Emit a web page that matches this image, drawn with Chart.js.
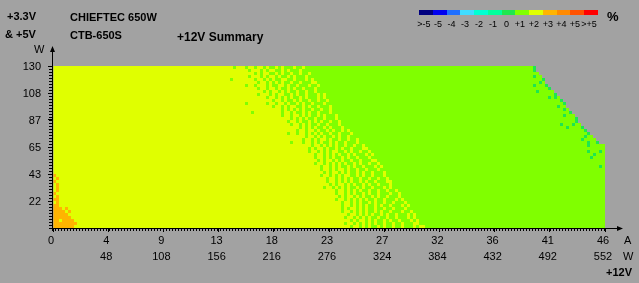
<!DOCTYPE html>
<html>
<head>
<meta charset="utf-8">
<script src="https://cdn.jsdelivr.net/npm/chart.js@4/dist/chart.umd.min.js"></script>
<style>
  body { margin: 0; background: #a2a2a2; }
  #wrap { position: relative; width: 639px; height: 283px; font-family: "Liberation Sans", Arial, sans-serif; color: #000; overflow: hidden; }
  #wrap canvas { position: absolute; left: 0; top: 0; }
  .t { position: absolute; white-space: nowrap; line-height: 1; }
  .b { font-weight: bold; }
  .sw { position: absolute; top: 10px; height: 5px; }
  .lg { position: absolute; top: 19px; font-size: 9px; width: 24px; text-align: center; }
</style>
</head>
<body>
<div id="wrap">
  <canvas id="chart" width="639" height="283"></canvas>
  <div class="t b" style="left:7px;top:11px;font-size:11px">+3.3V</div>
  <div class="t b" style="left:5px;top:29px;font-size:11px">&amp; +5V</div>
  <div class="t" style="left:34px;top:44px;font-size:11px">W</div>
  <div class="t b" style="left:70px;top:12px;font-size:11px">CHIEFTEC 650W</div>
  <div class="t b" style="left:70px;top:30px;font-size:11px">CTB-650S</div>
  <div class="t b" style="left:177px;top:31px;font-size:12px">+12V Summary</div>
  <div class="t b" style="left:607px;top:10px;font-size:13px">%</div>
  <div class="t" style="left:624px;top:235px;font-size:11px">A</div>
  <div class="t" style="left:623px;top:251px;font-size:11px">W</div>
  <div class="t b" style="left:606px;top:267px;font-size:11px">+12V</div>
  <div id="legend"></div>
</div>
<script>
// colour scale (deviation in %)
const levelLabels = [">-5", "-5", "-4", "-3", "-2", "-1", "0", "+1", "+2", "+3", "+4", "+5", ">+5"];
const levelColors = ["#00007f", "#0000f0", "#1f6fff", "#40dcff", "#00ffd2", "#00ff9c", "#1ee650",
                     "#80ff00", "#e0ff00", "#ffb400", "#ff8a00", "#ff5200", "#ff0000"];
// cell codes used in the rows below
const cellCodes = { T: "0", G: "+1", Y: "+2", O: "+3" };

// axes
const ampMax = 46;      // +12V load, A
const wattMax = 130;    // +3.3V & +5V load, W
const colCount = 184;   // cells per full row
const wTickLabels = ["22", "43", "65", "87", "108", "130"];
const aTickLabels = ["0", "4", "9", "13", "18", "23", "27", "32", "36", "41", "46"];
const wattTickLabels = ["", "48", "108", "156", "216", "276", "324", "384", "432", "492", "552"];

// one string per row, top (130 W) to bottom (0 W); letter + run length,
// whatever is left of the row up to rowEnds is +1 (G)
const rowLeft = [
  "Y60GY3GYYGYYGYGGYGYGGGYGGY",
  "Y64YGYYYGYGYYGGYGYGGGYGG",
  "Y65YYGYGYYGGYGYGGYGGYGGY",
  "Y65GYYYGYGYYGYGGYGYGGGYG",
  "Y59GY6YGYYGYGYGGYYGGYGGGYGY",
  "Y66YYGYYGYGYGYGGYGGYGGGYY",
  "Y64GY2GYYYGYGGYYGYGGYGGGYGGY",
  "Y67YGYYGYYGYGGYGYGGYGGGYG",
  "Y68YYGYGYYGYGYGGYGGYGGYGG",
  "Y68GYYYGYGYYGGYGYGGYGGGYGY",
  "Y70YGYYGYGYGYGGYGYGGGYGY",
  "Y71YYGYYGYGGYGYGGYGGYGGY",
  "Y64GY5YGYYGYYGYGGYGYGGYGGGYG",
  "Y73GYYGYGYYGGYGYGGYGGGY",
  "Y74YYGYGYGYGYGGYGGYGGYG",
  "Y66GY8YGYYGYGGYGYGGYGGGYG",
  "Y76GYYGYYGYGYGGYGYGGGY",
  "Y77YYGYGYGYGGYGGYGGGY",
  "Y77YGYYGYGGYGYGYGGYGGY",
  "Y79GYYGYGYGGYGGYGGGY",
  "Y80YYGYGYGYGGYGYGGGY",
  "Y80YGYYGYYGYGGYGYGGYGY",
  "Y78GY2GYYGYGYGYGGYGGYGGGY",
  "Y82YYGYYGYGYGGYGYGGYGG",
  "Y82YGYYGYGYYGYGGYGGYGGY",
  "Y79GY3GYYGYGYGGYGYGGYGGGYG",
  "Y84YYGYYGYGYGYGGYGGYGGY",
  "Y84YGYGYYGYGGYGYGGYGGGYY",
  "Y85GYYGYGYGYYGGYGYGGYGGY",
  "Y85YYGYYGYGYGYGGYGYGGGYGY",
  "Y86YGYYGYGYGGYGYGGYGGGYG",
  "Y86YYGYGYYGYGYGGYGGYGGGYY",
  "Y87GYYGYGYGYGYGGYGYGGYGGY",
  "Y87YYGYYGYGYGGYGYGGYGGGYGY",
  "Y88YGYYGYGYYGYGGYGGYGGGYG",
  "Y88YYGYGYYGYGYGGYGYGGYGGGY",
  "OY88GYYGYGYGYYGGYGYGGYGGGYG",
  "YOY87YYGYYGYGYGYGGYGGYGGYGGY",
  "OY89YGYYGYGYGYGGYGYGGYGGGYY",
  "YOY88YYGYGYYGYGYGGYGYGGYGGGYG",
  "YOY88GYYGYGYGYGGYGYGGYGGGYGY",
  "YOY90YYGYYGYGYGYGGYGGYGGYGGY",
  "OY92YGYYGYGYGGYGYGGYGGGYGGY",
  "YOY91YYGYGYYGYGYGGYGYGGYGGGYG",
  "O2Y92GYYGYGYGYGYGGYGGYGGGYGY",
  "YOY92YYGYYGYGYGGYGYGGYGGYGGGY",
  "O2Y93YGYYGYGYGYGGYGYGGYGGGYGY",
  "O3YOY89YYGYGYYGYGYGGYGGYGGYGGGY",
  "O4YOY90GYYGYGYGYGGYGYGGYGGGYGGY",
  "O5Y91YYGYYGYGYGYGGYGYGGYGGGYGY",
  "O6Y90YGYYGYGYGYGGYGGYGGYGGGYGY",
  "O2YO4Y90YYGYGYYGYGYGGYGYGGYGGGYGY",
  "O8Y89GYYGYGYGYGYGGYGGYGGYGGGYY",
  "O7Y90YYGYYGYGYGGYGYGGYGGYGGGYGYY"
];
// last cell (exclusive) of each row, top to bottom
const rowEnds = [
  161, 161, 162, 163, 164, 164, 165, 166, 167, 168, 169, 170, 171, 171, 172, 173, 174, 175,
  175, 176, 177, 178, 179, 180, 181, 182, 184, 184, 184, 184, 184, 184, 184, 184, 184, 184,
  184, 184, 184, 184, 184, 184, 184, 184, 184, 184, 184, 184, 184, 184, 184, 184, 184, 184
];
// single "0" cells near the cut-off edge: [row, col]
const tealCells = [
  [0, 160], [1, 160], [3, 160], [4, 163], [5, 162], [6, 160], [6, 164], [7, 165], [8, 161],
  [9, 167], [10, 165], [10, 167], [11, 169], [12, 170], [13, 168], [14, 170], [15, 172],
  [16, 170], [17, 174], [18, 174], [19, 169], [19, 173], [20, 171], [20, 176], [21, 177],
  [22, 178], [23, 177], [24, 176], [25, 178], [25, 181], [26, 178], [28, 178], [28, 182],
  [29, 180], [30, 179], [33, 182]
];

const rowStep = wattMax / rowLeft.length;
const colStep = ampMax / colCount;
const minorAmp = 0.25;

function levelColor(code) {
  return levelColors[levelLabels.indexOf(cellCodes[code])];
}

// turn the row strings into floating horizontal bars, one dataset per level
function buildRuns() {
  const runs = { T: [], G: [], Y: [], O: [] };
  rowLeft.forEach((s, r) => {
    const yMid = wattMax - (r + 0.5) * rowStep;
    const cells = [];
    for (const m of s.matchAll(/([OYGT])(\d*)/g)) {
      const n = m[2] ? +m[2] : 1;
      for (let i = 0; i < n; i++) cells.push(m[1]);
    }
    while (cells.length < rowEnds[r]) cells.push("G");
    let start = 0;
    for (let c = 1; c <= cells.length; c++) {
      if (c === cells.length || cells[c] !== cells[start]) {
        runs[cells[start]].push({ y: yMid, x: [start * colStep, c * colStep] });
        start = c;
      }
    }
  });
  tealCells.forEach(([r, c]) => {
    runs.T.push({ y: wattMax - (r + 0.5) * rowStep, x: [c * colStep, (c + 1) * colStep] });
  });
  return runs;
}

// colour legend
const legendDiv = document.getElementById("legend");
levelLabels.forEach((lab, i) => {
  const x0 = Math.round(419 + i * 179 / levelLabels.length);
  const x1 = Math.round(419 + (i + 1) * 179 / levelLabels.length);
  legendDiv.innerHTML += `<div class="sw" style="left:${x0}px;width:${x1 - x0}px;background:${levelColors[i]}"></div>` +
    `<div class="lg" style="left:${(x0 + x1) / 2 - 14}px">${lab}</div>`;
});

// minor ticks, axis lines and arrows
const axisExtras = {
  id: "axisExtras",
  afterDraw(chart) {
    const { ctx, chartArea: a, scales: { x, y } } = chart;
    ctx.save();
    ctx.strokeStyle = "#000";
    ctx.fillStyle = "#000";
    ctx.lineWidth = 1;
    ctx.beginPath();
    for (let r = 0; r <= rowLeft.length; r++) {
      const py = Math.round(y.getPixelForValue(r * rowStep)) + 0.5;
      ctx.moveTo(a.left - 4, py);
      ctx.lineTo(a.left, py);
    }
    for (let v = 0; v <= ampMax + 1e-9; v += minorAmp) {
      const px = Math.round(x.getPixelForValue(v)) - 0.5;
      ctx.moveTo(px, a.bottom);
      ctx.lineTo(px, a.bottom + 3);
    }
    ctx.moveTo(a.left - 0.5, a.bottom + 1);
    ctx.lineTo(a.left - 0.5, 49);
    ctx.moveTo(a.left - 1, a.bottom + 0.5);
    ctx.lineTo(620, a.bottom + 0.5);
    ctx.stroke();
    ctx.beginPath();
    ctx.moveTo(623, a.bottom + 0.5);
    ctx.lineTo(617, a.bottom - 2);
    ctx.lineTo(617, a.bottom + 3);
    ctx.closePath();
    ctx.moveTo(a.left - 0.5, 46);
    ctx.lineTo(a.left - 3, 52);
    ctx.lineTo(a.left + 2, 52);
    ctx.closePath();
    ctx.fill();
    ctx.restore();
  }
};

const runs = buildRuns();
const datasets = ["T", "G", "Y", "O"].map(code => ({
  label: cellCodes[code],
  data: runs[code],
  backgroundColor: levelColor(code),
  borderWidth: 0,
  inflateAmount: 0
}));

Chart.defaults.font.family = "'Liberation Sans', Arial, sans-serif";
Chart.defaults.font.size = 11;
Chart.defaults.color = "#000";

new Chart(document.getElementById("chart"), {
  type: "bar",
  data: { datasets },
  options: {
    indexAxis: "y",
    responsive: false,
    animation: false,
    events: [],
    grouped: false,
    barPercentage: 1,
    categoryPercentage: 1,
    layout: { padding: { top: 66, right: 34, left: 0, bottom: 0 } },
    plugins: { legend: { display: false }, tooltip: { enabled: false } },
    scales: {
      x: {
        type: "linear",
        offset: false,
        min: 0,
        max: ampMax,
        afterFit: s => { s.height = 55; s.paddingLeft = 0; s.paddingRight = 0; },
        afterBuildTicks: s => { s.ticks = aTickLabels.map((_, k) => ({ value: ampMax * k / 10 })); },
        border: { display: false },
        grid: { drawOnChartArea: false, offset: false, tickLength: 4, tickColor: "#000" },
        ticks: {
          autoSkip: false,
          maxRotation: 0,
          padding: 1,
          labelOffset: -2,
          font: { size: 11, lineHeight: 16 / 11 },
          callback: (v, k) => k === 0 ? [aTickLabels[0]] : [aTickLabels[k], wattTickLabels[k]]
        }
      },
      y: {
        type: "linear",
        offset: false,
        min: 0,
        max: wattMax,
        afterFit: s => { s.width = 53; s.paddingTop = 0; s.paddingBottom = 0; },
        afterBuildTicks: s => { s.ticks = wTickLabels.map((_, k) => ({ value: wattMax * (k + 1) / 6 })); },
        border: { display: false },
        grid: { drawOnChartArea: false, offset: false, tickLength: 5, tickColor: "#000" },
        ticks: {
          autoSkip: false,
          padding: 7,
          labelOffset: 1,
          callback: (v, k) => wTickLabels[k]
        }
      }
    }
  },
  plugins: [axisExtras]
});
</script>
</body>
</html>
